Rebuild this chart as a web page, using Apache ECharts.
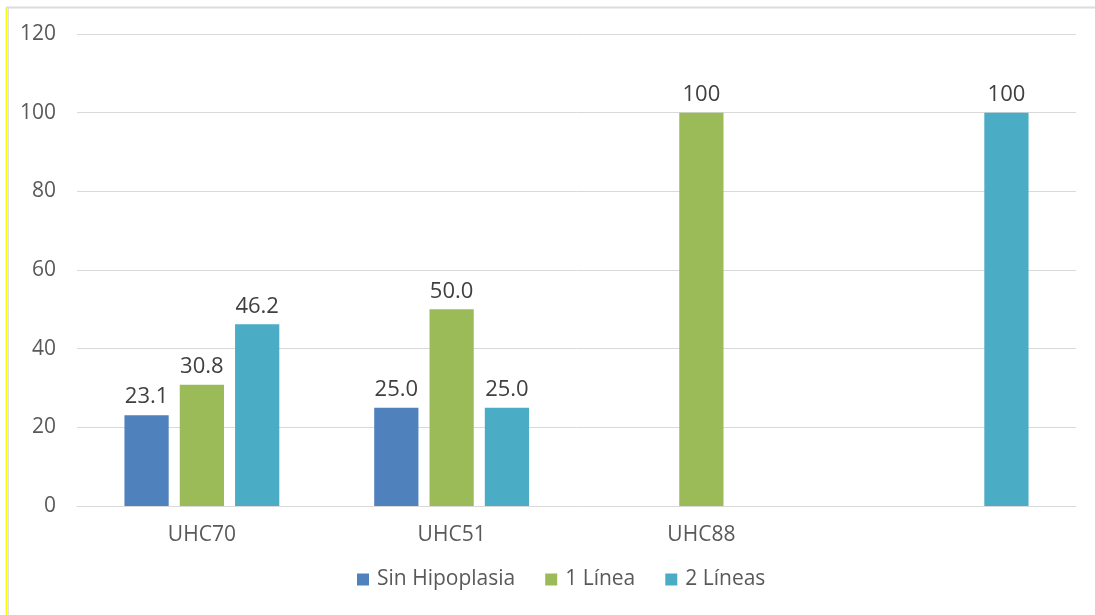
<!DOCTYPE html>
<html>
<head>
<meta charset="utf-8">
<title>Hipoplasia</title>
<script src="https://cdn.jsdelivr.net/npm/echarts@6/dist/echarts.min.js"></script>
<style>
  html, body { margin: 0; padding: 0; background: #fff; }
  #main { width: 1095px; height: 615px; }
</style>
</head>
<body>
<div id="main"></div>
<script>
// categorias del eje x (la cuarta no tiene nombre)
var categories = ['UHC70', 'UHC51', 'UHC88', '']
var seriesNames = ['Sin Hipoplasia', '1 Línea', '2 Líneas']
// valores por serie
var sinHipoplasia = [23.1, 25.0, null, null]
var unaLinea = [30.8, 50.0, 100, null]
var dosLineas = [46.2, 25.0, null, 100]
// etiquetas tal como aparecen sobre las barras
var labelsSin = ['23.1', '25.0', '', '']
var labelsUna = ['30.8', '50.0', '100', '']
var labelsDos = ['46.2', '25.0', '', '100']
var yTicks = [0, 20, 40, 60, 80, 100, 120]

var colors = ['#4F81BD', '#9BBB59', '#4BACC6']
var font = '"Open Sans", Lato, sans-serif'

function makeSeries (name, data, labels) {
  return {
    name: name,
    type: 'bar',
    data: data,
    barGap: '25%',
    barCategoryGap: '38%',
    label: {
      show: true,
      position: 'top',
      distance: 7,
      color: '#404040',
      fontSize: 22,
      fontFamily: font,
      formatter: function (p) { return labels[p.dataIndex] }
    }
  }
}

var myChart = echarts.init(document.getElementById('main'))
myChart.setOption({
  animation: false,
  color: colors,
  textStyle: { fontFamily: font },
  graphic: [
    // marco: linea amarilla a la izquierda y bordes grises
    { type: 'line', shape: { x1: 6.5, y1: 8, x2: 6.5, y2: 615 }, style: { stroke: '#FFFF00', lineWidth: 2 } },
    { type: 'line', shape: { x1: 8.5, y1: 8, x2: 8.5, y2: 615 }, style: { stroke: '#E0E0E8', lineWidth: 1 } },
    { type: 'line', shape: { x1: 6, y1: 7.5, x2: 1095, y2: 7.5 }, style: { stroke: '#DCDCDC', lineWidth: 2 } }
  ],
  grid: { left: 77, right: 19, top: 34, bottom: 109 },
  legend: {
    data: seriesNames,
    bottom: 20,
    left: 352,
    itemWidth: 12,
    itemHeight: 12,
    itemGap: 30,
    icon: 'rect',
    textStyle: { color: '#595959', fontSize: 21, fontFamily: font, padding: [0, 0, 0, 3] }
  },
  xAxis: {
    type: 'category',
    data: categories,
    axisLine: { lineStyle: { color: '#D9D9D9', width: 1 } },
    axisTick: { show: false },
    axisLabel: { color: '#595959', fontSize: 21, margin: 19, fontFamily: font }
  },
  yAxis: {
    type: 'value',
    min: yTicks[0],
    max: yTicks[yTicks.length - 1],
    interval: 20,
    axisLine: { show: false },
    axisTick: { show: false },
    axisLabel: { color: '#595959', fontSize: 21, margin: 21, fontFamily: font },
    splitLine: { lineStyle: { color: '#D9D9D9', width: 1 } }
  },
  series: [
    makeSeries(seriesNames[0], sinHipoplasia, labelsSin),
    makeSeries(seriesNames[1], unaLinea, labelsUna),
    makeSeries(seriesNames[2], dosLineas, labelsDos)
  ]
})
</script>
</body>
</html>
